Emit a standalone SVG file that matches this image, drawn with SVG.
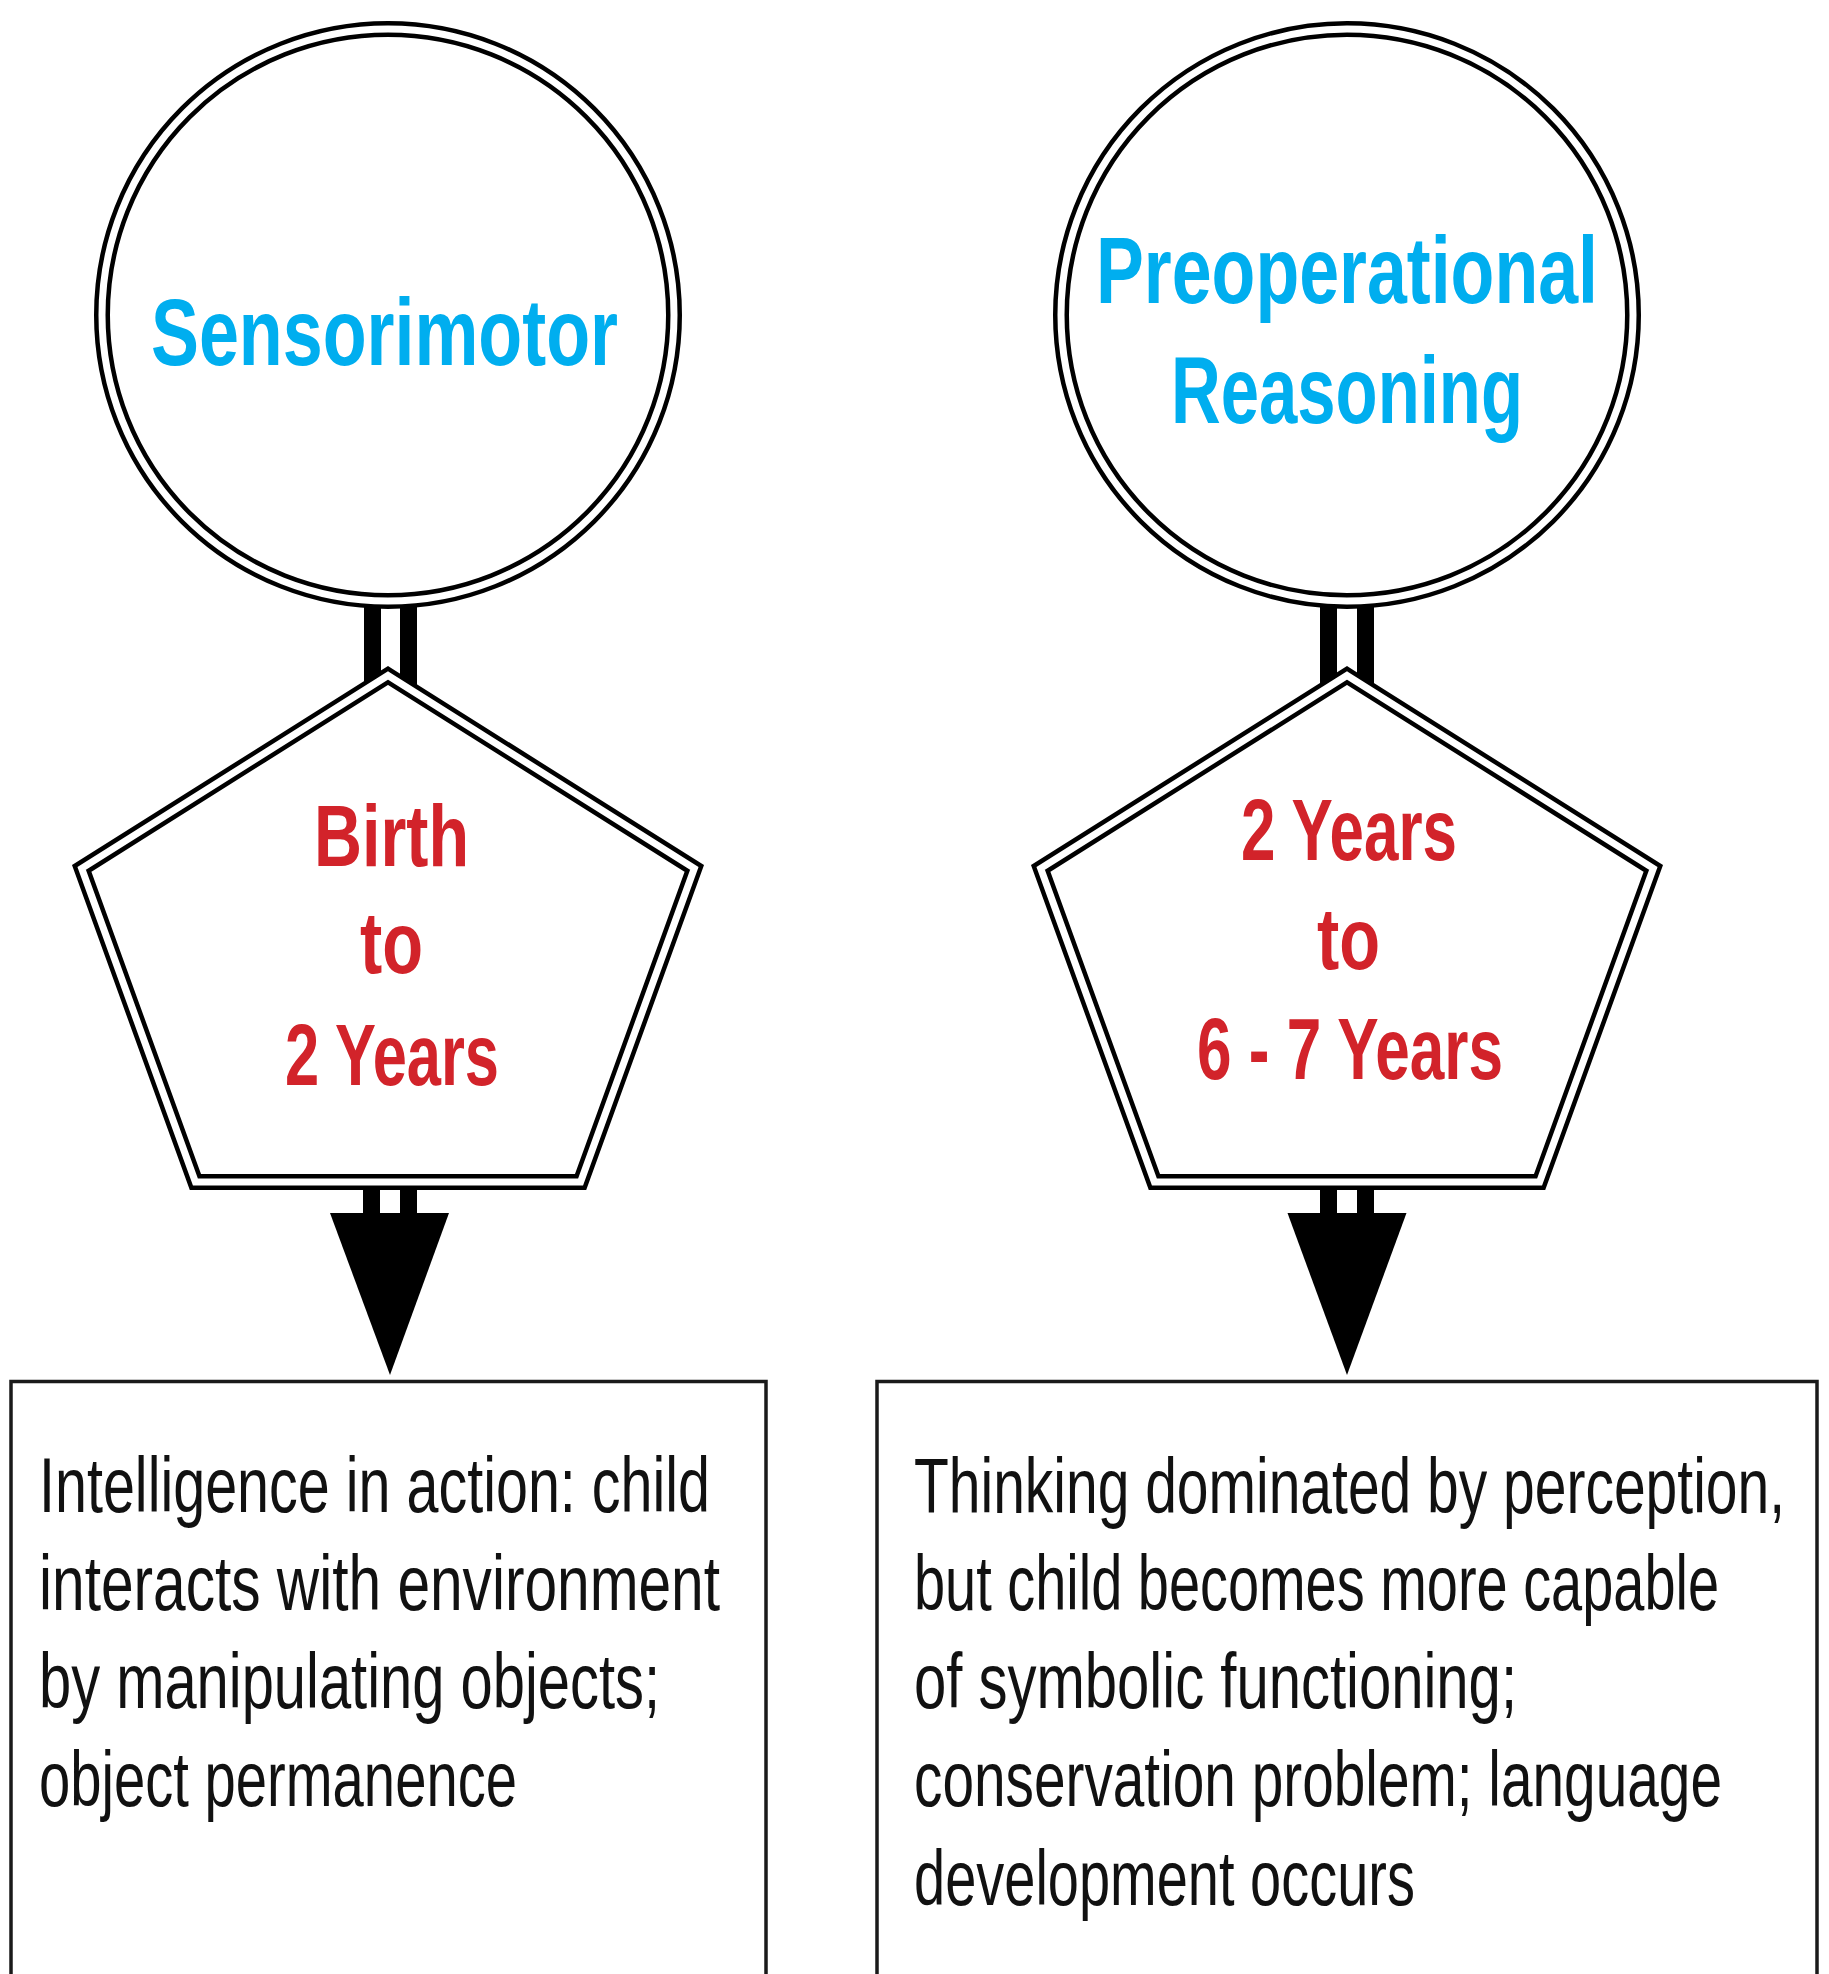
<svg xmlns="http://www.w3.org/2000/svg" width="1829" height="1974" viewBox="0 0 1829 1974">
<defs>
<style>
.ring-o{fill:#fff;stroke:#000;stroke-width:16}
.ring-i{fill:none;stroke:#fff;stroke-width:7}
.penta-o{fill:#fff;stroke:#000;stroke-width:16;stroke-linejoin:miter;stroke-miterlimit:10}
.penta-i{fill:none;stroke:#fff;stroke-width:7;stroke-linejoin:miter;stroke-miterlimit:10}
.bar{fill:#000}
.head{fill:#000}
.box{fill:#fff;stroke:#1a1a1a;stroke-width:3.5}
.stage{font-family:"Liberation Sans",Arial,sans-serif;font-weight:bold;fill:#00AEEF;font-size:94px}
.age{font-family:"Liberation Sans",Arial,sans-serif;font-weight:bold;fill:#D2232A;font-size:87px}
.desc{font-family:"Liberation Sans",Arial,sans-serif;fill:#111;font-size:77px}
</style>
</defs>
<rect width="1829" height="1974" fill="#fff"/>
<g id="connectors">
  <rect class="bar" x="364" y="590" width="17" height="115"/>
  <rect class="bar" x="400" y="590" width="17" height="115"/>
  <rect class="bar" x="363" y="1180" width="17" height="36"/>
  <rect class="bar" x="400" y="1180" width="17" height="36"/>
  <polygon class="head" points="330,1213 449,1213 390,1375"/>
  <rect class="bar" x="1320" y="590" width="17" height="115"/>
  <rect class="bar" x="1357" y="590" width="17" height="115"/>
  <rect class="bar" x="1320" y="1180" width="17" height="36"/>
  <rect class="bar" x="1357" y="1180" width="17" height="36"/>
  <polygon class="head" points="1287.5,1213 1406.5,1213 1347,1375"/>
</g>
<g id="node-sensorimotor">
  <circle class="ring-o" cx="388" cy="315" r="286"/>
  <circle class="ring-i" cx="388" cy="315" r="286"/>
  <text class="stage" x="151" y="365" textLength="467" lengthAdjust="spacingAndGlyphs">Sensorimotor</text>
</g>
<g id="node-preoperational">
  <circle class="ring-o" cx="1347" cy="315" r="286"/>
  <circle class="ring-i" cx="1347" cy="315" r="286"/>
  <text class="stage" x="1096" y="303" textLength="502" lengthAdjust="spacingAndGlyphs">Preoperational</text>
  <text class="stage" x="1171" y="423" textLength="352" lengthAdjust="spacingAndGlyphs">Reasoning</text>
</g>
<g id="node-age-sensorimotor">
  <polygon class="penta-o" points="388,675.5 694.3,868.4 580.6,1182 195.4,1182 81.7,868.4"/>
  <polygon class="penta-i" points="388,675.5 694.3,868.4 580.6,1182 195.4,1182 81.7,868.4"/>
  <text class="age" x="314" y="866" textLength="155" lengthAdjust="spacingAndGlyphs">Birth</text>
  <text class="age" x="360" y="973" textLength="63" lengthAdjust="spacingAndGlyphs">to</text>
  <text class="age" x="285" y="1085" textLength="214" lengthAdjust="spacingAndGlyphs">2 Years</text>
</g>
<g id="node-age-preoperational">
  <polygon class="penta-o" points="1347,675.5 1653.3,868.4 1539.6,1182 1154.4,1182 1040.7,868.4"/>
  <polygon class="penta-i" points="1347,675.5 1653.3,868.4 1539.6,1182 1154.4,1182 1040.7,868.4"/>
  <text class="age" x="1241" y="860" textLength="216" lengthAdjust="spacingAndGlyphs">2 Years</text>
  <text class="age" x="1317" y="969" textLength="63" lengthAdjust="spacingAndGlyphs">to</text>
  <text class="age" x="1197" y="1079" textLength="306" lengthAdjust="spacingAndGlyphs">6 - 7 Years</text>
</g>
<g id="node-desc-sensorimotor">
  <rect class="box" x="11" y="1381.5" width="755" height="620"/>
  <text class="desc" x="39" y="1512" textLength="671" lengthAdjust="spacingAndGlyphs">Intelligence in action: child</text>
  <text class="desc" x="39" y="1610" textLength="681" lengthAdjust="spacingAndGlyphs">interacts with environment</text>
  <text class="desc" x="39" y="1708" textLength="621" lengthAdjust="spacingAndGlyphs">by manipulating objects;</text>
  <text class="desc" x="39" y="1806" textLength="478" lengthAdjust="spacingAndGlyphs">object permanence</text>
</g>
<g id="node-desc-preoperational">
  <rect class="box" x="877" y="1381.5" width="940" height="620"/>
  <text class="desc" x="914" y="1513" textLength="871" lengthAdjust="spacingAndGlyphs">Thinking dominated by perception,</text>
  <text class="desc" x="914" y="1610" textLength="805" lengthAdjust="spacingAndGlyphs">but child becomes more capable</text>
  <text class="desc" x="914" y="1708" textLength="603" lengthAdjust="spacingAndGlyphs">of symbolic functioning;</text>
  <text class="desc" x="914" y="1806" textLength="808" lengthAdjust="spacingAndGlyphs">conservation problem; language</text>
  <text class="desc" x="914" y="1905" textLength="501" lengthAdjust="spacingAndGlyphs">development occurs</text>
</g>
</svg>
